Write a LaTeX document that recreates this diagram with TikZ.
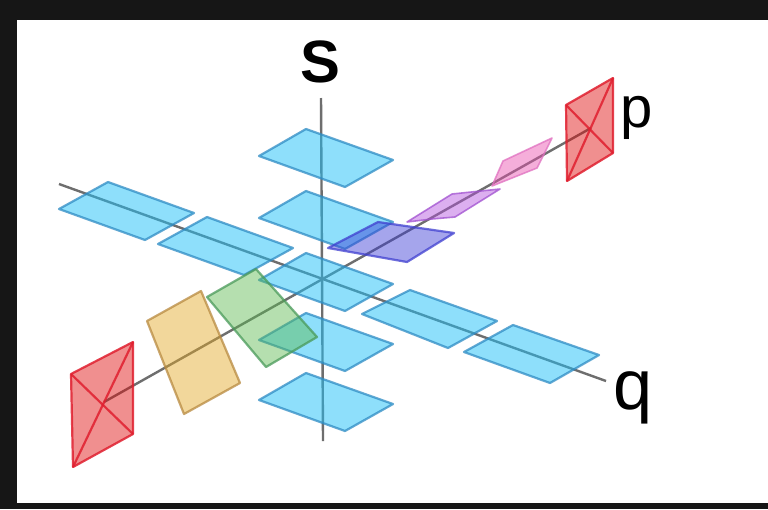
\documentclass[tikz,border=0pt]{standalone}
\usepackage{fontspec}
\usepackage{xcolor}
\setmainfont{Liberation Sans}
\usetikzlibrary{positioning}

\definecolor{frameblack}{HTML}{161616}
\definecolor{axisgray}{HTML}{6E6E6E}
\definecolor{planeblue}{HTML}{1FC0F8}
\definecolor{edgeblue}{HTML}{2F8CC4}
\definecolor{planered}{HTML}{DE0808}
\definecolor{edgered}{HTML}{E02030}
\definecolor{planeorange}{HTML}{E4A823}
\definecolor{edgeorange}{HTML}{B88A40}
\definecolor{planegreen}{HTML}{5BBA4F}
\definecolor{edgegreen}{HTML}{4A9A5A}
\definecolor{planeviolet}{HTML}{3939D5}
\definecolor{edgeviolet}{HTML}{4040D0}
\definecolor{planepurple}{HTML}{B34FDE}
\definecolor{edgepurple}{HTML}{A050D0}
\definecolor{planepink}{HTML}{E94DAF}
\definecolor{edgepink}{HTML}{E070C0}

\tikzset{
  axis/.style={draw=axisgray, line width=0.024cm},
  plane/.style={draw=edgeblue, fill=planeblue, fill opacity=0.5, draw opacity=0.75, line width=0.022cm, line join=round},
  redplane/.style={plane, draw=edgered, fill=planered, fill opacity=0.45, draw opacity=0.85},
  orangeplane/.style={plane, draw=edgeorange, fill=planeorange, fill opacity=0.45},
  greenplane/.style={plane, draw=edgegreen, fill=planegreen, fill opacity=0.45},
  violetplane/.style={plane, draw=edgeviolet, fill=planeviolet, fill opacity=0.45},
  purpleplane/.style={plane, draw=edgepurple, fill=planepurple, fill opacity=0.45, line width=0.016cm},
  pinkplane/.style={plane, draw=edgepink, fill=planepink, fill opacity=0.45, line width=0.016cm},
  hand/.style={text=black, inner sep=0pt}
}

\begin{document}
\begin{tikzpicture}[x=0.01cm, y=-0.01cm]
  \useasboundingbox (0,0) rectangle (768,509);
  \fill[frameblack] (0,0) rectangle (768,509);
  \fill[white] (17,20) rectangle (768,503);

  % axes
  \coordinate (s1) at (321,98);
  \coordinate (s2) at (323,441);
  \coordinate (q1) at (59,184);
  \coordinate (q2) at (606,381);
  \coordinate (p1) at (104,402);
  \coordinate (p2) at (591,128);
  \draw[axis] (s1) -- (s2);
  \draw[axis] (q1) -- (q2);
  \draw[axis] (p1) -- (p2);

  % planes along s
  \foreach \dy in {0,62,124,184,244}
    \draw[plane] (259,156+\dy) -- (306,129+\dy) -- (393,160+\dy) -- (345,187+\dy) -- cycle;

  % planes along q
  \draw[plane] (59,209) -- (108,182) -- (194,213) -- (145,240) -- cycle;
  \draw[plane] (158,244) -- (207,217) -- (293,248) -- (244,275) -- cycle;
  \draw[plane] (362,314) -- (410,290) -- (497,321) -- (448,348) -- cycle;
  \draw[plane] (464,352) -- (513,325) -- (599,355) -- (550,383) -- cycle;

  % planes along p
  \draw[redplane] (71,374) -- (133,342) -- (133,434) -- (73,467) -- cycle;
  \draw[redplane] (71,374) -- (133,434);
  \draw[redplane] (133,342) -- (73,467);
  \draw[orangeplane] (147,321) -- (201,291) -- (240,383) -- (184,414) -- cycle;
  \draw[greenplane] (207,297) -- (256,269) -- (317,337) -- (266,367) -- cycle;
  \draw[violetplane] (328,248) -- (378,222) -- (454,233) -- (407,262) -- cycle;
  \draw[purpleplane] (407,222) -- (452,194) -- (500,189) -- (455,217) -- (432,219) -- cycle;
  \draw[pinkplane] (492,186) -- (503,161) -- (552,138) -- (537,168) -- cycle;
  \draw[redplane] (566,105) -- (613,78) -- (613,153) -- (567,181) -- cycle;
  \draw[redplane] (566,105) -- (613,153);
  \draw[redplane] (613,78) -- (567,181);

  % labels
  \node[hand, font=\fontsize{17}{17}\selectfont\bfseries] (slabel) at (320,62) {S};
  \node[hand, font=\fontsize{16.5}{17}\selectfont] (plabel) at (637,118) {p};
  \node[hand, font=\fontsize{20}{20}\selectfont] (qlabel) at (633,398) {q};
\end{tikzpicture}
\end{document}
